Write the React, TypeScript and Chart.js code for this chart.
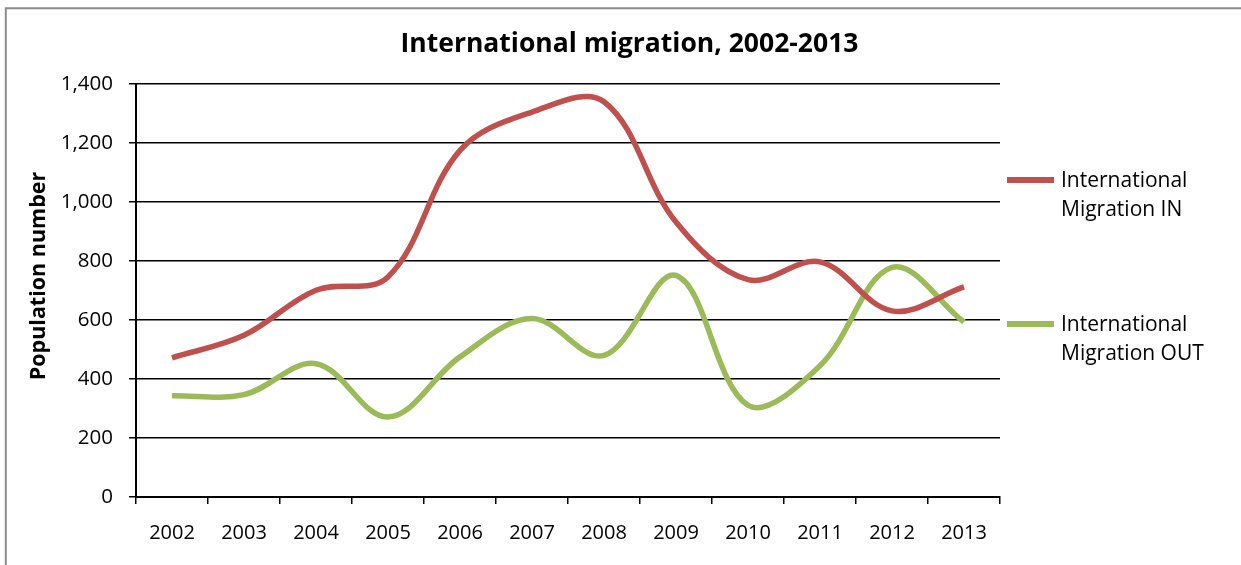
import React, { useEffect, useRef } from 'react';
import { Chart, registerables } from 'chart.js';

Chart.register(...registerables);

// ---- data ----
const TITLE = 'International migration, 2002-2013';
const Y_TITLE = 'Population number';
const YEARS = ['2002', '2003', '2004', '2005', '2006', '2007', '2008', '2009', '2010', '2011', '2012', '2013'];
const MIGRATION_IN = [472, 548, 701, 746, 1175, 1305, 1340, 932, 737, 797, 631, 712];
const MIGRATION_OUT = [343, 347, 452, 271, 475, 605, 480, 751, 311, 445, 778, 593];
const SERIES_LABELS = ['International Migration IN', 'International Migration OUT'];
const Y_MIN = 0;
const Y_MAX = 1400;
const Y_STEP = 200;

// ---- style ----
const FONT = '"Open Sans", "Noto Sans", sans-serif';
const COLORS = ['#C0504D', '#9BBB59'];
const LEGEND_Y = [180, 324];

function wrapText(ctx: CanvasRenderingContext2D, text: string, maxWidth: number): string[] {
  const words = text.split(' ');
  const lines: string[] = [];
  let cur = '';
  for (const w of words) {
    const test = cur ? cur + ' ' + w : w;
    if (cur && ctx.measureText(test).width > maxWidth) {
      lines.push(cur);
      cur = w;
    } else {
      cur = test;
    }
  }
  if (cur) lines.push(cur);
  return lines;
}

const chromePlugin = {
  id: 'chrome',
  beforeDraw(chart: any) {
    const ctx = chart.ctx as CanvasRenderingContext2D;
    ctx.save();
    ctx.fillStyle = '#ffffff';
    ctx.fillRect(0, 0, chart.width, chart.height);
    ctx.strokeStyle = '#8c8c8c';
    ctx.lineWidth = 2;
    ctx.beginPath();
    ctx.moveTo(5.8, chart.height);
    ctx.lineTo(5.8, 8.2);
    ctx.lineTo(chart.width, 8.2);
    ctx.stroke();
    ctx.restore();
  },
  afterDraw(chart: any) {
    const ctx = chart.ctx as CanvasRenderingContext2D;
    ctx.save();
    // title
    ctx.fillStyle = '#000';
    ctx.font = `bold 26.5px ${FONT}`;
    ctx.textAlign = 'center';
    ctx.textBaseline = 'alphabetic';
    ctx.fillText(TITLE, 629.5, 52);

    // y axis title
    ctx.save();
    ctx.translate(44.5, 276);
    ctx.rotate(-Math.PI / 2);
    ctx.font = `bold 21.5px ${FONT}`;
    ctx.textAlign = 'center';
    ctx.textBaseline = 'alphabetic';
    ctx.fillText(Y_TITLE, 0, 0);
    ctx.restore();

    // legend
    chart.data.datasets.forEach((ds: any, i: number) => {
      const y = LEGEND_Y[i];
      ctx.strokeStyle = ds.borderColor;
      ctx.lineWidth = 6;
      ctx.lineCap = 'butt';
      ctx.beginPath();
      ctx.moveTo(1007, y);
      ctx.lineTo(1054, y);
      ctx.stroke();
      ctx.fillStyle = '#000';
      ctx.font = `21px ${FONT}`;
      ctx.textAlign = 'left';
      ctx.textBaseline = 'alphabetic';
      const lines = wrapText(ctx, ds.label, 160);
      lines.forEach((ln, k) => {
        ctx.fillText(ln, 1061, y + 7 + k * 28.5);
      });
    });
    ctx.restore();
  },
};

export default function App() {
  const ref = useRef<HTMLCanvasElement | null>(null);

  useEffect(() => {
    document.body.style.margin = '0';
    if (!ref.current) return;
    const chart = new Chart(ref.current, {
      type: 'line',
      data: {
        labels: YEARS,
        datasets: [
          {
            label: SERIES_LABELS[0],
            data: MIGRATION_IN,
            borderColor: COLORS[0],
            backgroundColor: COLORS[0],
          },
          {
            label: SERIES_LABELS[1],
            data: MIGRATION_OUT,
            borderColor: COLORS[1],
            backgroundColor: COLORS[1],
          },
        ],
      },
      options: {
        animation: false,
        responsive: false,
        layout: { padding: { top: 84, right: 241, left: 0, bottom: 0 } },
        plugins: {
          legend: { display: false },
          title: { display: false },
          tooltip: { enabled: false },
        },
        elements: {
          point: { radius: 0, hoverRadius: 0 },
          line: { tension: 0.36, borderWidth: 5.5, borderCapStyle: 'butt' },
        },
        scales: {
          x: {
            type: 'category',
            offset: true,
            grid: {
              display: true,
              drawOnChartArea: false,
              drawTicks: true,
              tickLength: 7,
              offset: true,
              color: '#000',
              lineWidth: 1.5,
            },
            border: { display: true, color: '#000', width: 2 },
            ticks: {
              color: '#000',
              font: { family: FONT, size: 20 },
              padding: 17.5,
              autoSkip: false,
              maxRotation: 0,
            },
            afterFit: (s: any) => {
              s.height = 68;
            },
          },
          y: {
            min: Y_MIN,
            max: Y_MAX,
            ticks: {
              stepSize: Y_STEP,
              color: '#000',
              font: { family: FONT, size: 20.5 },
              padding: 16,
            },
            grid: {
              color: '#000',
              lineWidth: 1.5,
              drawTicks: true,
              tickLength: 7,
            },
            border: { display: true, color: '#000', width: 2 },
            afterFit: (s: any) => {
              s.width = 136;
            },
          },
        },
      },
      plugins: [chromePlugin],
    } as any);
    return () => chart.destroy();
  }, []);

  return (
    <div style={{ width: 1241, height: 565, position: 'relative' }}>
      <canvas ref={ref} width={1241} height={565} style={{ display: 'block', width: 1241, height: 565 }} />
    </div>
  );
}
